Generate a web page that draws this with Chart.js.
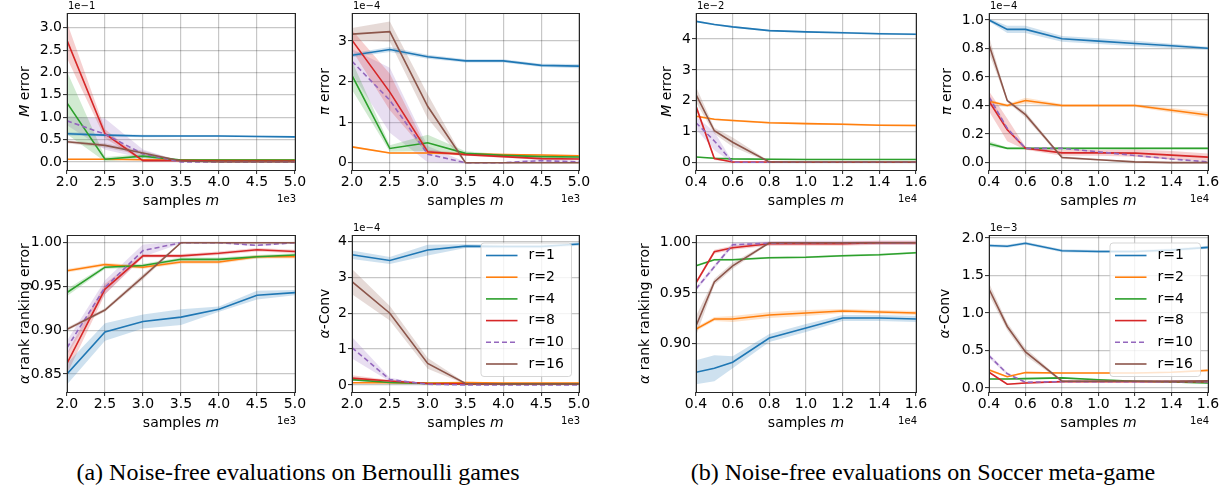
<!DOCTYPE html>
<html>
<head>
<meta charset="utf-8">
<script src="https://cdn.jsdelivr.net/npm/chart.js@4.4.0/dist/chart.umd.min.js"></script>
<style>
  html, body { margin: 0; padding: 0; background: #fff; }
  body { width: 1230px; height: 490px; position: relative; overflow: hidden; }
  .cell { position: absolute; }
  .caption { position: absolute; top: 458px; width: 600px; text-align: center; white-space: nowrap;
             font-family: "Liberation Serif", "Times New Roman", serif; font-size: 24px; line-height: 28px; color: #000; }
</style>
</head>
<body>
<div class="caption" style="left:-2px">(a) Noise-free evaluations on Bernoulli games</div>
<div class="caption" style="left:623px">(b) Noise-free evaluations on Soccer meta-game</div>
<script>
// sample counts (x1e3 for Bernoulli, x1e4 for Soccer)
const bernX = [2.0, 2.5, 3.0, 3.5, 4.0, 4.5, 5.0];
const soccerX = [0.4, 0.5, 0.6, 0.8, 1.0, 1.2, 1.4, 1.6];
const seriesLabels = ["r=1", "r=2", "r=4", "r=8", "r=10", "r=16"];
const seriesColors = ["#1f77b4", "#ff7f0e", "#2ca02c", "#d62728", "#9467bd", "#8c564b"];

// Bernoulli: M error (1e-1)
const bernMErr = [
  [0.63, 0.60, 0.58, 0.58, 0.58, 0.57, 0.56],
  [0.06, 0.06, 0.05, 0.04, 0.04, 0.04, 0.04],
  [1.32, 0.06, 0.13, 0.04, 0.04, 0.04, 0.04],
  [2.72, 0.63, 0.03, 0.03, 0.02, 0.02, 0.02],
  [0.92, 0.62, 0.18, 0.00, 0.00, 0.00, 0.00],
  [0.45, 0.37, 0.20, 0.02, 0.00, 0.00, 0.00]
];
const bernMErrBand = [
  [0.04, 0.03, 0.03, 0.02, 0.02, 0.02, 0.02],
  [0.01, 0.01, 0.01, 0.01, 0.01, 0.01, 0.01],
  [0.70, 0.05, 0.05, 0.02, 0.02, 0.02, 0.02],
  [0.40, 0.10, 0.02, 0.01, 0.01, 0.01, 0.01],
  [0.10, 0.35, 0.10, 0.01, 0.00, 0.00, 0.00],
  [0.03, 0.05, 0.05, 0.01, 0.00, 0.00, 0.00]
];

// Bernoulli: pi error (1e-4)
const bernPiErr = [
  [2.65, 2.79, 2.61, 2.51, 2.51, 2.40, 2.38],
  [0.39, 0.24, 0.24, 0.22, 0.20, 0.19, 0.17],
  [2.15, 0.35, 0.49, 0.23, 0.18, 0.15, 0.14],
  [3.02, 1.74, 0.27, 0.20, 0.15, 0.10, 0.09],
  [2.50, 1.54, 0.21, 0.00, 0.00, 0.05, 0.02],
  [3.17, 3.23, 1.39, 0.00, 0.00, 0.00, 0.00]
];
const bernPiErrBand = [
  [0.05, 0.06, 0.05, 0.04, 0.04, 0.04, 0.05],
  [0.02, 0.02, 0.02, 0.02, 0.02, 0.02, 0.02],
  [0.35, 0.08, 0.20, 0.05, 0.03, 0.03, 0.03],
  [0.25, 0.45, 0.05, 0.03, 0.03, 0.03, 0.03],
  [0.30, 0.80, 0.20, 0.02, 0.02, 0.05, 0.02],
  [0.15, 0.25, 0.30, 0.02, 0.01, 0.01, 0.01]
];

// Soccer: M error (1e-2)
const soccerMErr = [
  [4.57, 4.47, 4.39, 4.27, 4.23, 4.20, 4.17, 4.15],
  [1.50, 1.40, 1.36, 1.29, 1.26, 1.24, 1.21, 1.20],
  [0.18, 0.14, 0.12, 0.11, 0.10, 0.10, 0.10, 0.10],
  [1.82, 0.13, 0.02, 0.02, 0.01, 0.01, 0.01, 0.01],
  [1.29, 0.70, 0.01, 0.01, 0.01, 0.01, 0.01, 0.01],
  [2.20, 1.03, 0.66, 0.02, 0.02, 0.02, 0.02, 0.02]
];
const soccerMErrBand = [
  [0.03, 0.03, 0.03, 0.03, 0.03, 0.03, 0.03, 0.03],
  [0.03, 0.03, 0.03, 0.03, 0.03, 0.03, 0.03, 0.03],
  [0.02, 0.02, 0.02, 0.02, 0.02, 0.02, 0.02, 0.02],
  [0.10, 0.05, 0.01, 0.01, 0.01, 0.01, 0.01, 0.01],
  [0.20, 0.30, 0.02, 0.01, 0.01, 0.01, 0.01, 0.01],
  [0.25, 0.10, 0.15, 0.02, 0.01, 0.01, 0.01, 0.01]
];

// Soccer: pi error (1e-4)
const soccerPiErr = [
  [1.000, 0.934, 0.934, 0.868, 0.852, 0.835, 0.819, 0.802],
  [0.430, 0.400, 0.435, 0.400, 0.400, 0.400, 0.367, 0.334],
  [0.132, 0.100, 0.100, 0.100, 0.100, 0.100, 0.100, 0.100],
  [0.430, 0.230, 0.100, 0.068, 0.068, 0.066, 0.052, 0.038],
  [0.460, 0.240, 0.100, 0.100, 0.075, 0.050, 0.025, 0.005],
  [0.826, 0.435, 0.336, 0.035, 0.020, 0.005, 0.000, 0.000]
];
const soccerPiErrBand = [
  [0.010, 0.025, 0.025, 0.020, 0.020, 0.020, 0.015, 0.010],
  [0.010, 0.010, 0.020, 0.010, 0.010, 0.010, 0.015, 0.020],
  [0.020, 0.005, 0.005, 0.005, 0.005, 0.005, 0.005, 0.005],
  [0.070, 0.080, 0.010, 0.020, 0.020, 0.025, 0.030, 0.025],
  [0.020, 0.010, 0.005, 0.005, 0.005, 0.005, 0.005, 0.005],
  [0.060, 0.010, 0.020, 0.010, 0.005, 0.005, 0.005, 0.005]
];

// Bernoulli: alpha rank ranking error
const bernRank = [
  [0.850, 0.898, 0.910, 0.915, 0.924, 0.940, 0.943],
  [0.968, 0.975, 0.972, 0.978, 0.978, 0.984, 0.984],
  [0.943, 0.972, 0.974, 0.981, 0.981, 0.984, 0.986],
  [0.862, 0.947, 0.985, 0.985, 0.988, 0.992, 0.990],
  [0.880, 0.949, 0.991, 1.000, 1.000, 0.997, 1.000],
  [0.901, 0.923, 0.961, 1.000, 1.000, 1.000, 1.000]
];
const bernRankBand = [
  [0.012, 0.010, 0.008, 0.009, 0.003, 0.005, 0.003],
  [0.002, 0.002, 0.002, 0.002, 0.002, 0.002, 0.002],
  [0.004, 0.002, 0.002, 0.002, 0.002, 0.002, 0.002],
  [0.012, 0.006, 0.002, 0.002, 0.002, 0.002, 0.002],
  [0.008, 0.008, 0.007, 0.001, 0.001, 0.001, 0.001],
  [0.002, 0.002, 0.003, 0.001, 0.001, 0.001, 0.001]
];

// Bernoulli: alpha-Conv (1e-4)
const bernConv = [
  [3.63, 3.47, 3.76, 3.87, 3.86, 3.86, 3.93],
  [0.06, 0.06, 0.05, 0.07, 0.05, 0.05, 0.05],
  [0.15, 0.07, 0.04, 0.03, 0.03, 0.03, 0.03],
  [0.19, 0.11, 0.04, 0.03, 0.02, 0.02, 0.02],
  [1.04, 0.15, 0.02, 0.00, 0.00, 0.00, 0.00],
  [2.88, 2.00, 0.60, 0.04, 0.02, 0.02, 0.02]
];
const bernConvBand = [
  [0.12, 0.10, 0.15, 0.05, 0.05, 0.05, 0.05],
  [0.02, 0.02, 0.02, 0.02, 0.02, 0.02, 0.02],
  [0.03, 0.03, 0.03, 0.03, 0.03, 0.03, 0.03],
  [0.08, 0.03, 0.02, 0.02, 0.02, 0.02, 0.02],
  [0.30, 0.05, 0.01, 0.01, 0.01, 0.01, 0.01],
  [0.35, 0.20, 0.15, 0.02, 0.01, 0.01, 0.01]
];

// Soccer: alpha rank ranking error
const soccerRank = [
  [0.871, 0.875, 0.881, 0.905, 0.915, 0.925, 0.925, 0.924],
  [0.914, 0.924, 0.924, 0.928, 0.930, 0.932, 0.931, 0.930],
  [0.977, 0.983, 0.983, 0.985, 0.9855, 0.987, 0.988, 0.990],
  [0.960, 0.991, 0.995, 0.999, 0.999, 0.999, 1.000, 1.000],
  [0.954, 0.976, 0.998, 0.9995, 1.000, 1.000, 1.000, 1.000],
  [0.917, 0.961, 0.977, 1.000, 1.000, 1.000, 1.000, 1.000]
];
const soccerRankBand = [
  [0.012, 0.013, 0.006, 0.004, 0.004, 0.003, 0.003, 0.003],
  [0.002, 0.002, 0.003, 0.003, 0.003, 0.002, 0.002, 0.002],
  [0.001, 0.001, 0.001, 0.001, 0.001, 0.001, 0.001, 0.001],
  [0.002, 0.002, 0.002, 0.002, 0.002, 0.002, 0.002, 0.002],
  [0.002, 0.002, 0.002, 0.002, 0.002, 0.002, 0.002, 0.002],
  [0.010, 0.003, 0.003, 0.001, 0.001, 0.001, 0.001, 0.001]
];

// Soccer: alpha-Conv (1e-3)
const soccerConv = [
  [1.900, 1.890, 1.930, 1.830, 1.820, 1.820, 1.840, 1.875],
  [0.240, 0.150, 0.205, 0.200, 0.200, 0.200, 0.210, 0.235],
  [0.120, 0.120, 0.125, 0.134, 0.110, 0.090, 0.080, 0.067],
  [0.210, 0.050, 0.067, 0.085, 0.085, 0.085, 0.085, 0.085],
  [0.430, 0.190, 0.076, 0.085, 0.085, 0.085, 0.085, 0.085],
  [1.320, 0.820, 0.480, 0.090, 0.090, 0.090, 0.090, 0.094]
];
const soccerConvBand = [
  [0.02, 0.02, 0.02, 0.02, 0.02, 0.02, 0.02, 0.02],
  [0.02, 0.01, 0.01, 0.01, 0.01, 0.01, 0.01, 0.01],
  [0.01, 0.01, 0.01, 0.01, 0.01, 0.01, 0.01, 0.01],
  [0.01, 0.01, 0.01, 0.01, 0.01, 0.01, 0.01, 0.01],
  [0.03, 0.02, 0.01, 0.01, 0.01, 0.01, 0.01, 0.01],
  [0.08, 0.05, 0.05, 0.01, 0.01, 0.01, 0.01, 0.01]
];

Chart.defaults.font.family = "'DejaVu Sans', sans-serif";
Chart.defaults.font.size = 14;
Chart.defaults.color = "#000";

function withAlpha(hex, a) {
  const n = parseInt(hex.slice(1), 16);
  return "rgba(" + (n >> 16) + "," + ((n >> 8) & 255) + "," + (n & 255) + "," + a + ")";
}

// axis title with an italic symbol, like matplotlib mathtext
function drawTitle(ctx, parts, cx, cy, vertical) {
  ctx.save();
  ctx.translate(cx, cy);
  if (vertical) ctx.rotate(-Math.PI / 2);
  ctx.textBaseline = "middle";
  ctx.textAlign = "left";
  ctx.fillStyle = "#000";
  const fonts = parts.map(p => (p[1] ? "italic " : "") + "14px 'DejaVu Sans'");
  let total = 0;
  const widths = parts.map((p, i) => { ctx.font = fonts[i]; const w = ctx.measureText(p[0]).width; total += w; return w; });
  let x = -total / 2;
  parts.forEach((p, i) => { ctx.font = fonts[i]; ctx.fillText(p[0], x, 0); x += widths[i]; });
  ctx.restore();
}

// frame, axis titles, offset texts ("1e-1", "1e3") and the boxed legend
const decorations = {
  id: "decorations",
  afterDraw(chart, args, opts) {
    const ctx = chart.ctx, a = chart.chartArea;
    ctx.save();
    ctx.strokeStyle = "#262626";
    ctx.lineWidth = 1;
    ctx.strokeRect(a.left + 0.5, a.top + 0.5, a.right - a.left, a.bottom - a.top);

    drawTitle(ctx, opts.yTitle, chart.scales.y.left + 8.4, (a.top + a.bottom) / 2, true);
    drawTitle(ctx, [["samples ", false], ["m", true]], (a.left + a.right) / 2, a.bottom + 31, false);

    ctx.font = "10px 'DejaVu Sans'";
    ctx.fillStyle = "#000";
    ctx.textBaseline = "middle";
    if (opts.yOffset) {
      ctx.textAlign = "left";
      ctx.fillText(opts.yOffset, a.left + 1, a.top - 6.5);
    }
    ctx.textAlign = "right";
    ctx.fillText(opts.xOffset, a.right + 1, a.bottom + 29.5);

    if (opts.legend) {
      const w = 90.5, h = 133.5;
      const x0 = a.right - 7.5 - w, y0 = a.top + 8;
      ctx.beginPath();
      ctx.roundRect(x0, y0, w, h, 3);
      ctx.fillStyle = "rgba(255,255,255,0.8)";
      ctx.fill();
      ctx.strokeStyle = "rgba(204,204,204,0.8)";
      ctx.stroke();
      ctx.font = "14px 'DejaVu Sans'";
      ctx.textAlign = "left";
      const lines = chart.data.datasets.filter(d => d.label);
      lines.forEach((d, i) => {
        const y = y0 + 12.5 + i * 21.7;
        ctx.beginPath();
        ctx.moveTo(x0 + 5, y);
        ctx.lineTo(x0 + 36.5, y);
        ctx.strokeStyle = d.borderColor;
        ctx.lineWidth = 1.6;
        ctx.setLineDash(d.borderDash || []);
        ctx.stroke();
        ctx.setLineDash([]);
        ctx.fillStyle = "#000";
        ctx.fillText(d.label, x0 + 47.5, y);
      });
    }
    ctx.restore();
  }
};

function buildDatasets(xs, means, bands) {
  const sets = [];
  means.forEach((m, i) => {
    const c = seriesColors[i];
    sets.push({
      data: xs.map((x, k) => ({ x: x, y: m[k] - bands[i][k] })),
      borderColor: "transparent", borderWidth: 0, pointRadius: 0, fill: false, order: 20
    });
    sets.push({
      data: xs.map((x, k) => ({ x: x, y: m[k] + bands[i][k] })),
      borderColor: "transparent", borderWidth: 0, pointRadius: 0,
      fill: "-1", backgroundColor: withAlpha(c, 0.22), order: 20
    });
  });
  means.forEach((m, i) => {
    sets.push({
      label: seriesLabels[i],
      data: xs.map((x, k) => ({ x: x, y: m[k] })),
      borderColor: seriesColors[i], borderWidth: 1.6,
      borderDash: i === 4 ? [5, 3] : [],
      pointRadius: 0, fill: false, tension: 0, order: 5 - i
    });
  });
  return sets;
}

const mErrTitle = [["M", true], [" error", false]];
const piErrTitle = [["\u03c0", true], [" error", false]];
const rankTitle = [["\u03b1", true], [" rank ranking error", false]];
const convTitle = [["\u03b1", true], ["-Conv", false]];

// panel layout: plot rect [left, top, right, bottom] and y-title centre x
const panels = [
  { rect: [67, 13, 295, 170],    titleX: 25,  xs: bernX,   mean: bernMErr,    band: bernMErrBand,    yTitle: mErrTitle,  yMin: -0.18,  yMax: 3.33,   yStep: 0.5,  yDec: 1, xMin: 2.0, xMax: 5.0, xStep: 0.5, yOff: "1e\u22121", xOff: "1e3" },
  { rect: [352, 13, 579, 170],   titleX: 325, xs: bernX,   mean: bernPiErr,   band: bernPiErrBand,   yTitle: piErrTitle, yMin: -0.18,  yMax: 3.69,   yStep: 1,    yDec: 0, xMin: 2.0, xMax: 5.0, xStep: 0.5, yOff: "1e\u22124", xOff: "1e3" },
  { rect: [696, 13, 916, 170],   titleX: 667, xs: soccerX, mean: soccerMErr,  band: soccerMErrBand,  yTitle: mErrTitle,  yMin: -0.24,  yMax: 4.84,   yStep: 1,    yDec: 0, xMin: 0.4, xMax: 1.6, xStep: 0.2, yOff: "1e\u22122", xOff: "1e4" },
  { rect: [989, 13, 1208, 170],  titleX: 947, xs: soccerX, mean: soccerPiErr, band: soccerPiErrBand, yTitle: piErrTitle, yMin: -0.052, yMax: 1.049,  yStep: 0.2,  yDec: 1, xMin: 0.4, xMax: 1.6, xStep: 0.2, yOff: "1e\u22124", xOff: "1e4" },
  { rect: [67, 235, 295, 392],   titleX: 25,  xs: bernX,   mean: bernRank,    band: bernRankBand,    yTitle: rankTitle,  yMin: 0.8294, yMax: 1.0088, yStep: 0.05, yDec: 2, xMin: 2.0, xMax: 5.0, xStep: 0.5, yOff: "", xOff: "1e3" },
  { rect: [352, 235, 579, 392],  titleX: 325, xs: bernX,   mean: bernConv,    band: bernConvBand,    yTitle: convTitle,  yMin: -0.196, yMax: 4.18,   yStep: 1,    yDec: 0, xMin: 2.0, xMax: 5.0, xStep: 0.5, yOff: "1e\u22124", xOff: "1e3", legend: true },
  { rect: [696, 235, 916, 392],  titleX: 645, xs: soccerX, mean: soccerRank,  band: soccerRankBand,  yTitle: rankTitle,  yMin: 0.8513, yMax: 1.0077, yStep: 0.05, yDec: 2, xMin: 0.4, xMax: 1.6, xStep: 0.2, yOff: "", xOff: "1e4" },
  { rect: [989, 235, 1208, 392], titleX: 945, xs: soccerX, mean: soccerConv,  band: soccerConvBand,  yTitle: convTitle,  yMin: -0.054, yMax: 2.04,   yStep: 0.5,  yDec: 1, xMin: 0.4, xMax: 1.6, xStep: 0.2, yOff: "1e\u22123", xOff: "1e4", legend: true }
];

const gridColor = "rgba(0,0,0,0.22)";

panels.forEach((p, idx) => {
  const [L, T, R, B] = p.rect;
  const cLeft = p.titleX - 8;
  const cTop = idx < 4 ? 0 : 213;
  const cRight = R + 14;
  const cBottom = B + 40;
  const yWidth = L - cLeft;

  const cell = document.createElement("div");
  cell.className = "cell";
  cell.style.left = cLeft + "px";
  cell.style.top = cTop + "px";
  cell.style.width = (cRight - cLeft) + "px";
  cell.style.height = (cBottom - cTop) + "px";
  const canvas = document.createElement("canvas");
  cell.appendChild(canvas);
  document.body.appendChild(cell);

  new Chart(canvas, {
    type: "line",
    data: { datasets: buildDatasets(p.xs, p.mean, p.band) },
    plugins: [decorations],
    options: {
      responsive: true,
      maintainAspectRatio: false,
      animation: false,
      events: [],
      layout: { padding: { top: T - cTop, right: 14, left: 0, bottom: 0 } },
      plugins: {
        legend: { display: false },
        tooltip: { enabled: false },
        filler: { drawTime: "beforeDatasetsDraw" },
        decorations: { yOffset: p.yOff, xOffset: p.xOff, legend: !!p.legend, yTitle: p.yTitle }
      },
      scales: {
        x: {
          type: "linear",
          min: p.xMin, max: p.xMax,
          afterFit: s => { s.height = 40; },
          border: { display: false },
          grid: { color: gridColor, lineWidth: 1.2, tickLength: 4, tickColor: "#262626", tickWidth: 1 },
          ticks: { stepSize: p.xStep, autoSkip: false, maxRotation: 0, padding: 0,
                   callback: v => v.toFixed(1) }
        },
        y: {
          type: "linear",
          min: p.yMin, max: p.yMax,
          afterFit: s => { s.width = yWidth; },
          border: { display: false },
          grid: { color: gridColor, lineWidth: 1.2, tickLength: 4, tickColor: "#262626", tickWidth: 1 },
          ticks: { stepSize: p.yStep, includeBounds: false, autoSkip: false, padding: 1,
                   callback: v => v.toFixed(p.yDec) }
        }
      }
    }
  });
});
</script>
</body>
</html>
